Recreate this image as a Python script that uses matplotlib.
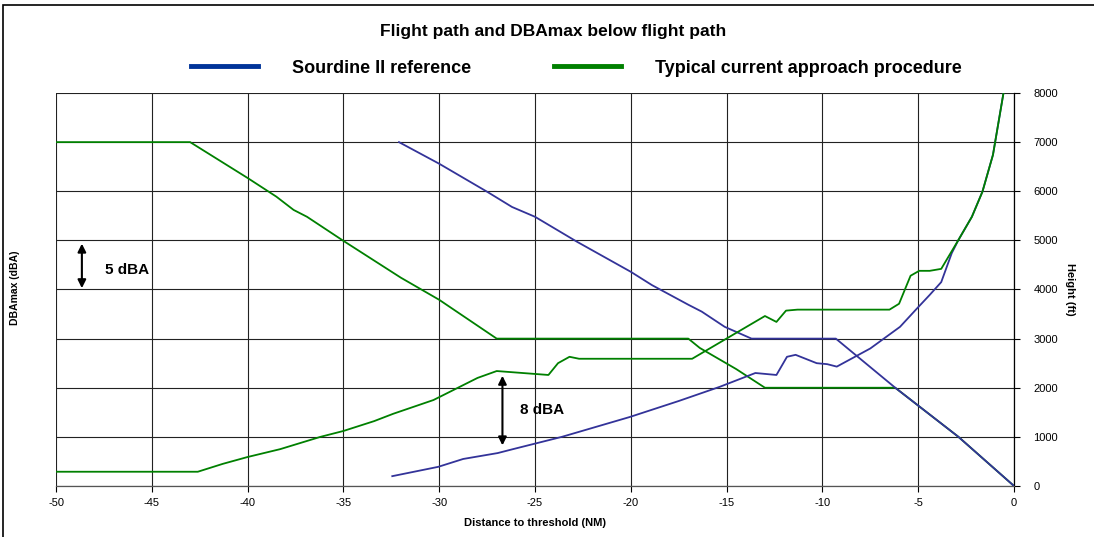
import matplotlib
matplotlib.use("Agg")
import matplotlib.pyplot as plt
from matplotlib.patches import Rectangle

plt.rcParams['font.family'] = ['Liberation Sans', 'DejaVu Sans']
plt.rcParams['axes.unicode_minus'] = False

# flight paths (height, ft)
green_path_x = [-50, -43, -40, -38.5, -37.6, -36.9, -35, -32, -30, -27, -17, -16.4, -14.5, -13, -6.2, -2.9, 0]
green_path_y = [7000, 7000, 6270, 5890, 5620, 5480, 4990, 4240, 3790, 3000, 3000, 2810, 2380, 2000, 2000, 1000, 0]
blue_path_x = [-32.1, -30, -27.5, -26.2, -25, -22.8, -20, -18.9, -17, -16.3, -15.1, -13.7, -9.3, -6.2, -2.9, 0]
blue_path_y = [7000, 6560, 5990, 5680, 5480, 4970, 4360, 4090, 3690, 3550, 3240, 3000, 3000, 2000, 1000, 0]

# DBAmax below flight path (drawn on the height scale, 1000 ft = 5 dBA)
green_noise_x = [-50, -42.6, -41.3, -40, -38.3, -36.2, -35, -33.4, -32.4, -30.3, -28, -27, -24.3, -23.8,
                 -23.2, -22.7, -16.8, -13, -12.4, -11.9, -11.3, -6.5, -6.0, -5.4, -4.95, -4.4, -3.8,
                 -2.9, -2.2, -1.65, -1.1, -0.55]
green_noise_y = [290, 290, 450, 590, 750, 1000, 1120, 1320, 1470, 1750, 2200, 2340, 2260, 2500,
                 2630, 2590, 2590, 3460, 3340, 3570, 3590, 3590, 3710, 4280, 4380, 4380, 4420,
                 5010, 5480, 5990, 6740, 8000]
blue_noise_x = [-32.45, -30.05, -28.75, -26.95, -26.15, -23.6, -20.05, -17.5, -15.35, -13.5, -12.4,
                -11.85, -11.4, -10.3, -9.75, -9.25, -7.5, -5.95, -5.05, -4.4, -3.8, -3.25, -2.9,
                -2.2, -1.65, -1.1, -0.55]
blue_noise_y = [200, 390, 550, 670, 750, 1000, 1405, 1730, 2020, 2300, 2260,
                2630, 2670, 2500, 2480, 2430, 2800, 3240, 3620, 3890, 4150, 4740, 5010,
                5480, 5990, 6740, 8000]

x_ticks = list(range(-50, 1, 5))
y_ticks = list(range(0, 8001, 1000))

blue = '#333399'
green = '#008000'

fig = plt.figure(figsize=(10.94, 5.37), dpi=100)
ax = fig.add_axes([0.0512, 0.095, 0.8757, 0.7318])

ax.plot(green_path_x, green_path_y, color=green, lw=1.3, zorder=3)
ax.plot(blue_path_x, blue_path_y, color=blue, lw=1.3, zorder=3)
ax.plot(blue_noise_x, blue_noise_y, color=blue, lw=1.3, zorder=3)
ax.plot(green_noise_x, green_noise_y, color=green, lw=1.3, zorder=3)

ax.set_xlim(-50, 0)
ax.set_ylim(0, 8000)
ax.set_xticks(x_ticks)
ax.set_yticks(y_ticks)
ax.yaxis.tick_right()
ax.yaxis.set_label_position('right')
ax.grid(True, color='#222222', lw=0.8)
ax.set_axisbelow(True)
for s in ['top', 'left']:
    ax.spines[s].set_visible(False)
ax.spines['right'].set_linewidth(0.9)
ax.spines['bottom'].set_linewidth(0.9)
ax.spines['bottom'].set_color('#555555')
ax.tick_params(axis='both', direction='out', length=4, width=0.8, labelsize=8)
ax.tick_params(axis='x', pad=5)
ax.tick_params(axis='y', pad=10)
ax.set_xlabel('Distance to threshold (NM)', fontsize=8, fontweight='bold', labelpad=7)
ax.set_ylabel('Height (ft)', fontsize=8, fontweight='bold', rotation=270, labelpad=12)

fig.text(0.0137, 0.465, 'DBAmax (dBA)', rotation=90, fontsize=7.5, fontweight='bold',
         ha='center', va='center')

# dBA difference arrows
ax.annotate('', xy=(-48.65, 3970), xytext=(-48.65, 4990),
            arrowprops=dict(arrowstyle='<|-|>', color='black', lw=1.5, mutation_scale=12))
ax.text(-47.45, 4400, '5 dBA', fontsize=11, fontweight='bold', va='center', ha='left')
ax.annotate('', xy=(-26.7, 770), xytext=(-26.7, 2300),
            arrowprops=dict(arrowstyle='<|-|>', color='black', lw=1.5, mutation_scale=12))
ax.text(-25.8, 1550, '8 dBA', fontsize=11, fontweight='bold', va='center', ha='left')

fig.text(0.5055, 0.941, 'Flight path and DBAmax below flight path', fontsize=12.5,
         fontweight='bold', ha='center', va='center')

h1, = ax.plot([], [], color='#003399', lw=3.5)
h2, = ax.plot([], [], color=green, lw=3.5)
fig.legend([h1, h2], ['Sourdine II reference', 'Typical current approach procedure'],
           loc='center', bbox_to_anchor=(0.527, 0.873), ncol=2, frameon=False,
           prop=dict(size=13, weight='bold'), handlelength=3.7, handletextpad=1.9,
           columnspacing=4.6)

fig.patches.append(Rectangle((3 / 1094, -0.1), 1.2, 1.1 - 5 / 537, transform=fig.transFigure,
                             fill=False, edgecolor='black', lw=1.2))

fig.savefig('out.png', dpi=100)
